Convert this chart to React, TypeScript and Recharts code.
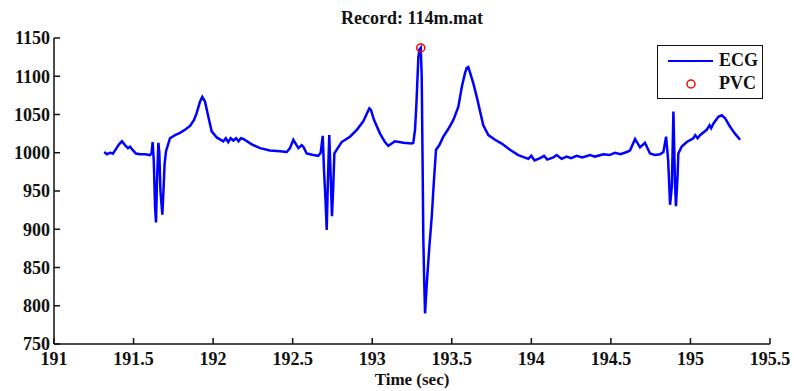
import React from 'react'
import {
  ComposedChart,
  Line,
  Scatter,
  XAxis,
  YAxis
} from 'recharts'

// time axis (sec) and ECG amplitude
const timeSec = [
  191.316, 191.333, 191.352, 191.371, 191.39, 191.409, 191.427, 191.446, 191.465, 191.478,
  191.497, 191.515, 191.541, 191.572, 191.603, 191.613, 191.62, 191.627, 191.635, 191.641,
  191.647, 191.656, 191.662, 191.669, 191.681, 191.688, 191.695, 191.704, 191.729, 191.761,
  191.792, 191.823, 191.855, 191.88, 191.897, 191.918, 191.932, 191.949, 191.97, 191.991,
  192.023, 192.064, 192.08, 192.095, 192.11, 192.127, 192.145, 192.16, 192.175, 192.19,
  192.243, 192.295, 192.357, 192.42, 192.463, 192.483, 192.504, 192.536, 192.557, 192.567,
  192.588, 192.609, 192.63, 192.661, 192.676, 192.689, 192.697, 192.706, 192.714, 192.721,
  192.73, 192.738, 192.747, 192.755, 192.762, 192.777, 192.808, 192.86, 192.903, 192.944,
  192.968, 192.982, 192.992, 193.011, 193.049, 193.08, 193.101, 193.143, 193.196, 193.248,
  193.258, 193.269, 193.278, 193.29, 193.297, 193.305, 193.311, 193.316, 193.321, 193.327,
  193.332, 193.343, 193.359, 193.374, 193.388, 193.401, 193.422, 193.447, 193.478, 193.51,
  193.541, 193.563, 193.573, 193.583, 193.594, 193.604, 193.625, 193.635, 193.657, 193.678,
  193.698, 193.73, 193.772, 193.814, 193.866, 193.918, 193.981, 194.0, 194.02, 194.055,
  194.08, 194.1, 194.138, 194.16, 194.19, 194.222, 194.25, 194.285, 194.32, 194.369,
  194.4, 194.453, 194.49, 194.526, 194.56, 194.6, 194.62, 194.652, 194.683, 194.714,
  194.746, 194.777, 194.809, 194.83, 194.847, 194.86, 194.872, 194.883, 194.893, 194.903,
  194.909, 194.919, 194.924, 194.945, 194.977, 195.018, 195.03, 195.045, 195.06, 195.102,
  195.12, 195.13, 195.144, 195.175, 195.197, 195.218, 195.249, 195.28, 195.312
]

const ecgValues = [
  1001, 998, 1000, 999, 1005, 1011, 1015, 1010, 1006, 1008,
  1003, 999, 998, 998, 997, 999, 1014, 990, 930, 909,
  960, 1013, 1000, 950, 919, 950, 985, 1002, 1019, 1023,
  1026, 1030, 1035, 1043, 1052, 1067, 1073, 1067, 1047, 1028,
  1020, 1015, 1019, 1014, 1019, 1016, 1019, 1015, 1019, 1018,
  1011, 1006, 1003, 1002, 1001, 1006, 1017, 1006, 1010, 1008,
  999, 998, 997, 996, 1000, 1022, 977, 940, 899, 960,
  1023, 975, 917, 955, 999, 1004, 1014, 1021, 1030, 1041,
  1052, 1058, 1056, 1043, 1025, 1014, 1009, 1015, 1013, 1012,
  1013, 1030, 1065, 1125, 1135, 1137, 1100, 1000, 890, 830,
  790, 829, 877, 916, 964, 1004, 1010, 1021, 1031, 1043,
  1060, 1086, 1095, 1104, 1111, 1112, 1098, 1091, 1073, 1054,
  1036, 1023, 1017, 1012, 1004, 997, 992, 996, 990, 993,
  996, 991, 994, 997, 992, 995, 993, 996, 994, 997,
  995, 998, 997, 1000, 998, 1001, 1003, 1018, 1007, 1013,
  999, 997, 998, 1001, 1021, 990, 932, 956, 1054, 960,
  930, 970, 999, 1008, 1014, 1019, 1023, 1019, 1023, 1030,
  1036, 1032, 1038, 1047, 1049, 1045, 1034, 1025, 1017
]

const pvcTime = [193.305]
const pvcValues = [1137]

const xTicks = [191, 191.5, 192, 192.5, 193, 193.5, 194, 194.5, 195, 195.5]
const yTicks = [750, 800, 850, 900, 950, 1000, 1050, 1100, 1150]

const ecgData = timeSec.map((t, i) => ({ t, ecg: ecgValues[i] }))
const pvcData = pvcTime.map((t, i) => ({ t, pvc: pvcValues[i] }))

const font = '"Liberation Serif", "DejaVu Serif", serif'
const tickStyle = { fontFamily: font, fontWeight: 700, fontSize: 18, fill: '#111' }

const PvcCircle = (props: any) => {
  if (props.cx == null || props.cy == null) return null
  return <circle cx={props.cx} cy={props.cy} r={4} fill="none" stroke="#ff0000" strokeWidth={1.5} />
}

const LegendBox = () => (
  <div
    style={{
      position: 'absolute',
      left: 657,
      top: 45,
      width: 106,
      height: 54,
      border: '1.5px solid #111',
      background: '#fff',
      fontFamily: font,
      fontWeight: 700,
      fontSize: 18,
      color: '#111',
      boxSizing: 'border-box'
    }}
  >
    <svg width={50} height={50} style={{ position: 'absolute', left: 8, top: 0 }}>
      <line x1={2} y1={15} x2={47} y2={15} stroke="#0000ff" strokeWidth={2} />
      <circle cx={25} cy={38} r={4} fill="none" stroke="#ff0000" strokeWidth={1.5} />
    </svg>
    <div style={{ position: 'absolute', left: 61, top: 4, lineHeight: '20px' }}>ECG</div>
    <div style={{ position: 'absolute', left: 61, top: 27, lineHeight: '20px' }}>PVC</div>
  </div>
)

export default function App() {
  return (
    <div style={{ position: 'absolute', left: 0, top: 0, width: 794, height: 391, background: '#fff' }}>
      <div
        style={{
          position: 'absolute',
          left: 262,
          width: 300,
          top: 7,
          textAlign: 'center',
          fontFamily: font,
          fontWeight: 700,
          fontSize: 18,
          color: '#111',
          lineHeight: '22px'
        }}
      >
        Record: 114m.mat
      </div>
      <ComposedChart
        width={794}
        height={391}
        data={ecgData}
        margin={{ top: 38, right: 24, bottom: 0, left: 0 }}
      >
        <XAxis
          dataKey="t"
          type="number"
          domain={[191, 195.5]}
          ticks={xTicks}
          allowDataOverflow
          height={47}
          tickSize={-6}
          tickMargin={14}
          tick={tickStyle}
          stroke="#111"
          strokeWidth={1.5}
          interval={0}
        />
        <XAxis
          xAxisId="top"
          orientation="top"
          type="number"
          domain={[191, 195.5]}
          ticks={xTicks}
          allowDataOverflow
          height={0}
          tickSize={-6}
          tick={false}
          stroke="#111"
          strokeWidth={1.5}
        />
        <YAxis
          type="number"
          domain={[750, 1150]}
          ticks={yTicks}
          allowDataOverflow
          width={54}
          tickSize={-6}
          tickMargin={10}
          tick={tickStyle}
          stroke="#111"
          strokeWidth={1.5}
          interval={0}
        />
        <YAxis
          yAxisId="right"
          orientation="right"
          type="number"
          domain={[750, 1150]}
          ticks={yTicks}
          allowDataOverflow
          width={0}
          tickSize={-6}
          tick={false}
          stroke="#111"
          strokeWidth={1.5}
        />
        <Line
          dataKey="ecg"
          type="linear"
          stroke="#0000ff"
          strokeWidth={2.5}
          dot={false}
          isAnimationActive={false}
        />
        <Scatter data={pvcData} dataKey="pvc" shape={PvcCircle} isAnimationActive={false} />
      </ComposedChart>
      <LegendBox />
      <div
        style={{
          position: 'absolute',
          left: 262,
          width: 300,
          top: 370,
          textAlign: 'center',
          fontFamily: font,
          fontWeight: 700,
          fontSize: 17,
          color: '#111',
          lineHeight: '20px'
        }}
      >
        Time (sec)
      </div>
    </div>
  )
}
